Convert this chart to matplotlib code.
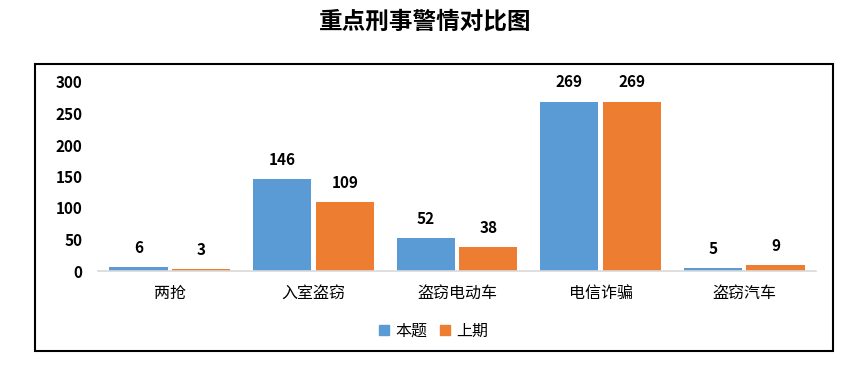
import numpy as np
import matplotlib
matplotlib.use("Agg")
import matplotlib.pyplot as plt
from matplotlib.patches import Rectangle

plt.rcParams['font.family'] = ['Noto Sans CJK SC', 'DejaVu Sans']

# data
categories = ["两抢", "入室盗窃", "盗窃电动车", "电信诈骗", "盗窃汽车"]
current = [6, 146, 52, 269, 5]
previous = [3, 109, 38, 269, 9]
series_names = ["本题", "上期"]
yticks = [0, 50, 100, 150, 200, 250, 300]

blue = "#5B9BD5"
orange = "#ED7D31"

fig = plt.figure(figsize=(8.5, 3.68), dpi=100)
ax = fig.add_axes([98/850, 1-271/368, (816-98)/850, (271-82)/368])

x = np.arange(len(categories))
w = 0.405
off = 0.218
b1 = ax.bar(x - off, current, w, color=blue, label=series_names[0])
b2 = ax.bar(x + off, previous, w, color=orange, label=series_names[1])

for bars in (b1, b2):
    for r in bars:
        ax.annotate(str(int(r.get_height())),
                    (r.get_x() + r.get_width()/2, r.get_height()),
                    xytext=(0, 8), textcoords="offset points",
                    ha="center", va="bottom", fontsize=11, fontweight="bold",
                    annotation_clip=False)

ax.set_xlim(-0.5, len(categories) - 0.5)
ax.set_ylim(0, 300)
ax.set_yticks(yticks)
ax.set_xticks(x)
ax.set_xticklabels(categories, fontsize=11.5)
for t in ax.get_yticklabels():
    t.set_fontweight("bold")
    t.set_fontsize(11)
ax.tick_params(axis="y", length=0, pad=11)
ax.tick_params(axis="x", length=0, pad=10)
for s in ["top", "right", "left"]:
    ax.spines[s].set_visible(False)
ax.spines["bottom"].set_color("#D9D9D9")
ax.spines["bottom"].set_linewidth(1.2)

handles = [plt.Line2D([], [], marker="s", linestyle="", color=blue, markersize=7),
           plt.Line2D([], [], marker="s", linestyle="", color=orange, markersize=7)]
fig.legend(handles, series_names, loc="center", bbox_to_anchor=(432/850, 1-331/368),
           ncol=2, frameon=False, fontsize=11.5, handletextpad=0.2, columnspacing=0.6,
           handlelength=1.0)

fig.text(0.5, 1-22/368, "重点刑事警情对比图", ha="center", va="center",
         fontsize=17, fontweight="bold")

fig.patches.append(Rectangle((35/850, 1-351/368), (833-35)/850, (351-64)/368,
                             transform=fig.transFigure, fill=False,
                             edgecolor="black", linewidth=1.5))

fig.savefig("out.png", dpi=100)
